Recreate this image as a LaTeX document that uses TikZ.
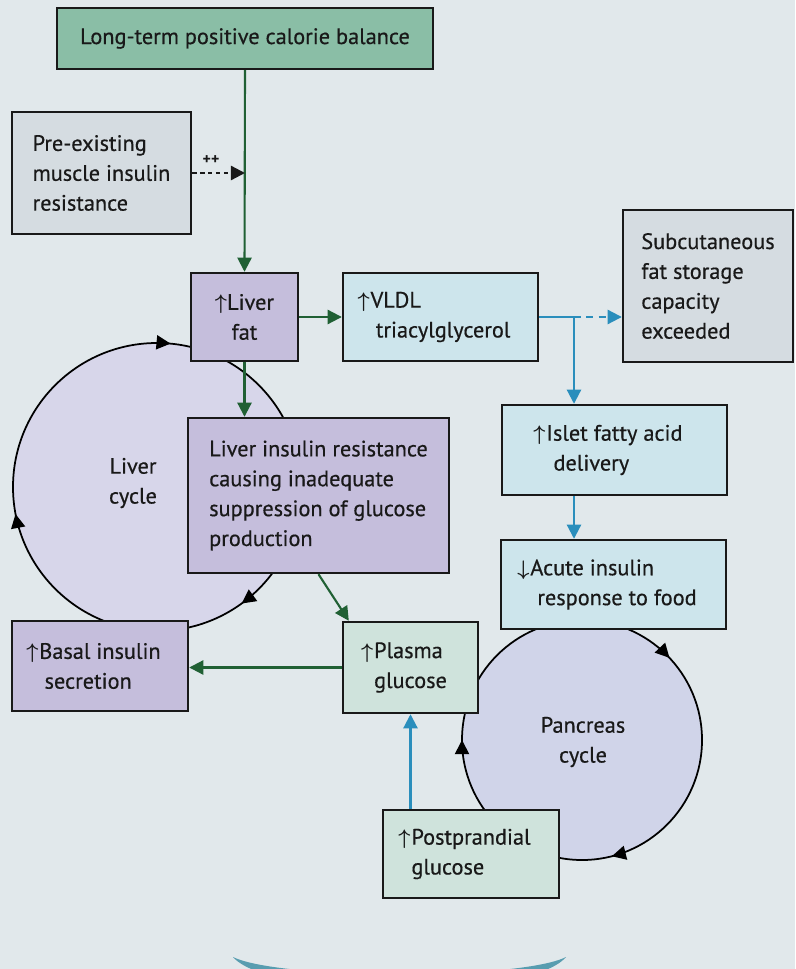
\documentclass[tikz,border=0pt]{standalone}
\usepackage{amsmath,amssymb}
\usepackage{fontspec}
\setmainfont{PT Sans}[UprightFeatures={FakeBold=0.5}]
\usetikzlibrary{arrows.meta,decorations.markings}

\definecolor{bgcol}{RGB}{225,232,235}
\definecolor{topfill}{RGB}{138,190,166}
\definecolor{greyfill}{RGB}{213,220,225}
\definecolor{lavfill}{RGB}{197,190,220}
\definecolor{bluefill}{RGB}{205,229,236}
\definecolor{grnfill}{RGB}{207,227,220}
\definecolor{livercirc}{RGB}{215,214,234}
\definecolor{pancirc}{RGB}{208,212,233}
\definecolor{arrgreen}{RGB}{32,96,52}
\definecolor{arrblue}{RGB}{42,142,188}
\definecolor{crescent}{RGB}{88,157,176}
\definecolor{ink}{RGB}{25,25,25}

\newcommand{\uparr}{\llap{$\boldsymbol\uparrow$\kern0.5pt}}
\newcommand{\downarr}{\llap{$\boldsymbol\downarrow$\kern0.5pt}}
\newcommand{\cyctip}{\arrow{Triangle[length=8pt,width=8pt]}}

\begin{document}
\begin{tikzpicture}[x=0.02cm, y=-0.02cm,
  box/.style={draw=ink, line width=1.4pt, fill=#1, align=left, inner sep=0pt,
    text=ink, font=\fontsize{12.7}{17}\selectfont},
  grnarrow/.style={draw=arrgreen, line width=1.2pt, -{Triangle[length=8pt,width=8pt]}},
  bluearrow/.style={draw=arrblue, line width=1.2pt, -{Triangle[length=8pt,width=8pt]}},
  cyctext/.style={text=ink, align=center, font=\fontsize{12.7}{17}\selectfont}
]
\useasboundingbox (0,0) rectangle (795,969);
\fill[bgcol] (0,0) rectangle (795,969);

% bottom ornament
\begin{scope}
\clip (0,0) rectangle (795,969);
\fill[crescent] (233,957) .. controls (280,980) and (520,980) .. (566,957)
  .. controls (530,1000) and (270,1000) .. cycle;
\end{scope}

% Liver cycle
\draw[fill=livercirc, line width=1pt, postaction={decorate},
  decoration={markings, mark=at position 0.15 with {\cyctip},
    mark=at position 0.47 with {\cyctip}, mark=at position 0.765 with {\cyctip}}]
  (157,487) circle[radius=144];
\node[cyctext] (livercyc) at (133,483) {Liver\\cycle};

% Pancreas cycle
\draw[fill=pancirc, line width=1pt, postaction={decorate},
  decoration={markings, mark=at position 0.21 with {\cyctip},
    mark=at position 0.5 with {\cyctip}, mark=at position 0.88 with {\cyctip}}]
  (582,740) circle[radius=120];
\node[cyctext] (pancyc) at (583,742) {Pancreas\\cycle};

% boxes
\node[box=topfill, align=center, minimum width=7.52cm, minimum height=1.22cm] (calorie)
  at (245,38.5) {Long-term positive calorie balance};
\node[box=greyfill, minimum width=3.58cm, minimum height=2.44cm] (muscle)
  at (101.5,173) {Pre-existing\\muscle insulin\\resistance};
\node[box=lavfill, align=center, minimum width=2.14cm, minimum height=1.76cm] (liverfat)
  at (244.5,317) {$\boldsymbol\uparrow$Liver\\fat};
\node[box=bluefill, minimum width=3.9cm, minimum height=1.76cm] (vldl)
  at (440.5,317) {\uparr VLDL\\\hspace*{3pt}triacylglycerol};
\node[box=greyfill, minimum width=3.4cm, minimum height=3.04cm] (subcut)
  at (708,286) {Subcutaneous\\fat storage\\capacity\\exceeded};
\node[box=lavfill, minimum width=5.22cm, minimum height=3.1cm] (hepir)
  at (318.5,495.5) {Liver insulin resistance\\causing inadequate\\suppression of glucose\\production};
\node[box=bluefill, minimum width=4.5cm, minimum height=1.8cm] (islet)
  at (614.5,450) {\uparr Islet fatty acid\\\hspace*{4pt}delivery};
\node[box=bluefill, minimum width=4.5cm, minimum height=1.78cm] (acute)
  at (613.5,584.5) {\downarr Acute insulin\\\hspace*{4pt}response to food};
\node[box=lavfill, minimum width=3.52cm, minimum height=1.8cm] (basal)
  at (100,666) {\uparr Basal insulin\\\hspace*{3pt}secretion};
\node[box=grnfill, minimum width=2.7cm, minimum height=1.82cm] (plasma)
  at (410.5,667.5) {\uparr Plasma\\glucose};
\node[box=grnfill, minimum width=3.52cm, minimum height=1.76cm] (postpr)
  at (471,854) {\uparr Postprandial\\glucose};

% connectors
\coordinate (join) at (245,173);
\coordinate (split) at (574,317);
\draw[grnarrow] (calorie.south) -- (liverfat.north);
\draw[ink, line width=1.3pt, dash pattern=on 2.5pt off 2pt,
  -{Triangle[length=8pt,width=8pt]}] (muscle.east) -- (join);
\node[text=ink, font=\fontsize{9}{9}\selectfont\bfseries] (plus) at (211,160) {++};
\draw[grnarrow] (liverfat.east) -- (vldl.west);
\draw[grnarrow] (liverfat.south) -- (liverfat.south |- hepir.north);
\draw[grnarrow] (hepir.south) -- ([xshift=0.14cm]plasma.north west);
\draw[grnarrow] (plasma.west) -- (plasma.west -| basal.east);
\draw[draw=arrblue, line width=1.2pt] (vldl.east) -- (split);
\draw[bluearrow] (split) -- (split |- islet.north);
\draw[bluearrow, dash pattern=on 4pt off 3pt] (split) -- (split -| subcut.west);
\draw[bluearrow] (split |- islet.south) -- (split |- acute.north);
\draw[bluearrow] (plasma.south |- postpr.north) -- (plasma.south);
\end{tikzpicture}
\end{document}
